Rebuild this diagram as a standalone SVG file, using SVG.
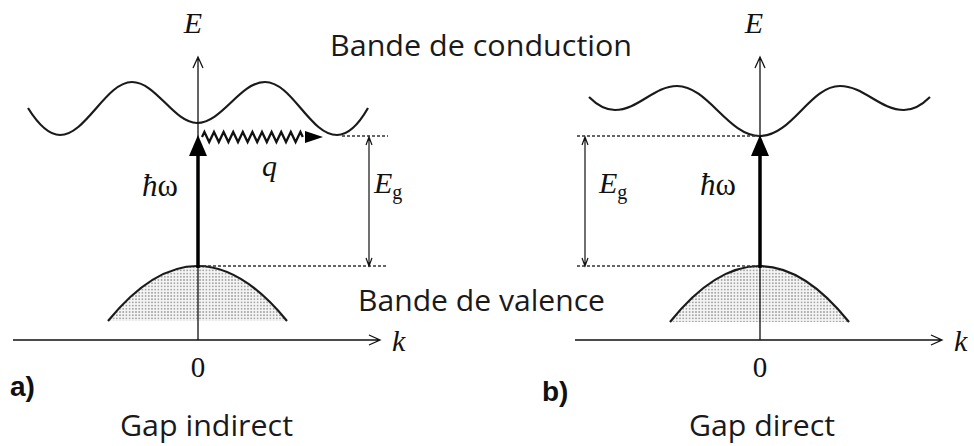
<svg xmlns="http://www.w3.org/2000/svg" width="974" height="446" viewBox="0 0 974 446">
<style>
.ax{fill:none;stroke:#111;stroke-width:1.3}
.band{fill:none;stroke:#1a1a1a;stroke-width:2.2}
.dash{fill:none;stroke:#333;stroke-width:1.3;stroke-dasharray:3 2}
.thin{fill:none;stroke:#111;stroke-width:1.2}
.thick{fill:none;stroke:#000;stroke-width:3.5}
.math{font-family:"Liberation Serif",serif;font-style:italic;fill:#111}
.up{font-family:"Liberation Serif",serif;fill:#111}
.lab{font-family:"Open Sans","Liberation Sans",sans-serif;fill:#1a1a1a;font-size:29px}
.bold{font-family:"Liberation Sans",Arial,sans-serif;font-weight:bold;fill:#111;font-size:28px}
</style>
<defs>
<pattern id="dots" width="3.2" height="3.2" patternUnits="userSpaceOnUse">
<rect width="3.2" height="3.2" fill="#f4f4f4"/>
<circle cx="1.6" cy="1.6" r="0.8" fill="#8a8a8a"/>
</pattern>
</defs>
<rect width="974" height="446" fill="#fff"/>

<g id="panel-a">
<g id="valence-a">
<path d="M108,321 Q197.5,211 287,321 Z" fill="url(#dots)" stroke="none"/>
<path class="band" d="M108,321 Q197.5,211 287,321"/>
</g>
<g id="conduction-a">
<path class="band" d="M28,108 C38,124 48,135 60,135 C86,135 106,82 132,82 C156,82 174,123 197,123 C222,123 240,82 265,82 C292,82 310,135 337,135 C350,135 360,122 368,108"/>
</g>
<g id="axes-a">
<path class="ax" d="M198,340 L198,57 M193,68 L198,57 L203,68"/>
<path class="ax" d="M13,340 L380,340 M369,335 L380,340 L369,345"/>
</g>
<g id="connectors-a">
<path class="dash" d="M342,136 L388,136"/>
<path class="dash" d="M198,266 L386,266"/>
<path class="thin" d="M369,137 L369,266 M366,145 L369,137 L372,145 M366,258 L369,266 L372,258"/>
<path class="thick" d="M198,268 L198,152"/>
<path d="M189,156 L198,135 L207,156 Z" fill="#000"/>
<path fill="none" stroke="#111" stroke-width="2.3" stroke-linejoin="miter" d="M202,137 l2.4,-5 l4.8,10 l4.8,-10 l4.8,10 l4.8,-10 l4.8,10 l4.8,-10 l4.8,10 l4.8,-10 l4.8,10 l4.8,-10 l4.8,10 l4.8,-10 l4.8,10 l4.8,-10 l4.8,10 l4.8,-10 l4.8,10 l4.8,-10 l4.8,10 l4.8,-10 l2.4,5"/>
<path d="M305,131 L323,137 L305,143 Z" fill="#000"/>
</g>
<text class="math" x="193" y="33" font-size="30" text-anchor="middle">E</text>
<text class="math" x="142" y="196" font-size="31">ħ<tspan class="up" font-style="normal">ω</tspan></text>
<text class="math" x="262" y="176" font-size="30">q</text>
<text class="math" x="374" y="193" font-size="30">E<tspan class="up" font-style="normal" font-size="20" dy="6">g</tspan></text>
<text class="math" x="392" y="351" font-size="30">k</text>
<text class="up" x="198" y="377" font-size="29" text-anchor="middle">0</text>
<text class="bold" x="10" y="396">a)</text>
<text class="lab" x="120" y="436" textLength="173" lengthAdjust="spacingAndGlyphs">Gap indirect</text>
</g>

<g id="panel-b">
<g id="valence-b">
<path d="M670,322 Q759.5,210 849,322 Z" fill="url(#dots)" stroke="none"/>
<path class="band" d="M670,322 Q759.5,210 849,322"/>
</g>
<g id="conduction-b">
<path class="band" d="M589,97 C597,105 605,110 615,110 C638,110 654,86 677,86 C708,86 728,136 760,136 C792,136 810,86 840,86 C864,86 880,110 904,110 C914,110 922,105 930,97"/>
</g>
<g id="axes-b">
<path class="ax" d="M760,340 L760,57 M755,68 L760,57 L765,68"/>
<path class="ax" d="M575,340 L942,340 M931,335 L942,340 L931,345"/>
</g>
<g id="connectors-b">
<path class="dash" d="M577,136 L760,136"/>
<path class="dash" d="M577,266 L760,266"/>
<path class="thin" d="M585,137 L585,266 M582,145 L585,137 L588,145 M582,258 L585,266 L588,258"/>
<path class="thick" d="M760,268 L760,152"/>
<path d="M751,156 L760,135 L769,156 Z" fill="#000"/>
</g>
<text class="math" x="754" y="33" font-size="30" text-anchor="middle">E</text>
<text class="math" x="599" y="193" font-size="30">E<tspan class="up" font-style="normal" font-size="20" dy="6">g</tspan></text>
<text class="math" x="700" y="195" font-size="31">ħ<tspan class="up" font-style="normal">ω</tspan></text>
<text class="math" x="954" y="351" font-size="30">k</text>
<text class="up" x="760" y="377" font-size="29" text-anchor="middle">0</text>
<text class="bold" x="542" y="401">b)</text>
<text class="lab" x="689" y="436" textLength="146" lengthAdjust="spacingAndGlyphs">Gap direct</text>
</g>

<text class="lab" x="330" y="56" textLength="302" lengthAdjust="spacingAndGlyphs">Bande de conduction</text>
<text class="lab" x="358" y="311" textLength="247" lengthAdjust="spacingAndGlyphs">Bande de valence</text>
</svg>
